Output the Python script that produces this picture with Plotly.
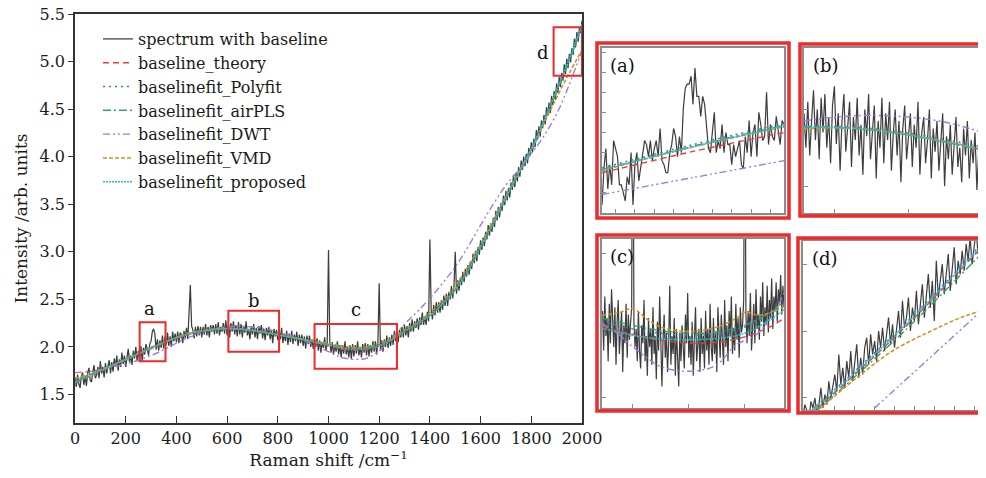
import plotly.graph_objects as go

# ---------------- main spectrum ----------------
raman_shift = list(range(0, 2001, 5))
spectrum = [
    1.68,1.58,1.71,1.61,1.57,1.69,1.73,1.60,1.69,1.59,
    1.73,1.78,1.65,1.63,1.73,1.81,1.67,1.70,1.79,1.67,
    1.85,1.72,1.79,1.68,1.83,1.72,1.80,1.86,1.72,1.84,
    1.74,1.88,1.79,1.91,1.75,1.87,1.79,1.94,1.82,1.91,
    1.79,1.92,1.98,1.84,1.91,1.81,1.96,1.88,2.00,1.85,
    1.96,1.86,2.01,1.85,1.99,1.92,2.03,1.98,1.91,2.03,
    2.06,2.16,2.19,2.14,1.97,2.08,1.96,2.07,1.99,2.12,
    1.98,2.11,2.02,2.15,2.01,2.11,2.00,2.16,2.06,2.14,
    2.05,2.16,2.04,2.15,2.13,2.04,2.17,2.09,2.20,2.08,
    2.40,2.65,2.22,2.18,2.09,2.21,2.11,2.22,2.12,2.21,
    2.10,2.21,2.13,2.24,2.12,2.21,2.10,2.23,2.16,2.23,
    2.13,2.24,2.14,2.26,2.12,2.21,2.16,2.25,2.14,2.28,
    2.12,2.24,2.10,2.25,2.16,2.27,2.13,2.23,2.11,2.26,
    2.13,2.24,2.10,2.22,2.15,2.27,2.12,2.19,2.08,2.22,
    2.13,2.24,2.10,2.20,2.08,2.22,2.14,2.23,2.09,2.19,
    2.07,2.20,2.12,2.21,2.08,2.18,2.04,2.19,2.11,2.18,
    2.07,2.18,2.08,2.20,2.04,2.14,2.06,2.17,2.02,2.14,
    2.05,2.17,2.03,2.13,2.06,2.16,2.01,2.13,2.04,2.13,
    2.01,2.11,1.98,2.12,2.03,2.12,2.00,2.08,1.98,2.08,
    2.00,2.09,1.96,2.07,1.94,2.05,1.99,2.10,1.96,2.05,
    3.02,2.06,1.94,2.05,1.92,2.02,1.95,2.06,1.92,2.02,
    1.89,2.02,1.93,2.06,1.92,2.00,1.89,2.02,1.87,2.03,
    1.90,2.02,1.93,2.06,1.91,2.00,1.89,2.03,1.94,2.04,
    1.91,2.03,1.90,2.02,1.94,2.06,1.95,2.06,1.92,2.05,
    2.67,1.96,2.07,1.95,2.08,2.00,2.12,1.99,2.10,2.01,
    2.13,2.02,2.17,2.06,2.16,2.05,2.18,2.10,2.21,2.10,
    2.23,2.12,2.22,2.10,2.25,2.16,2.29,2.16,2.27,2.20,
    2.30,2.18,2.31,2.23,2.36,2.23,2.32,2.23,2.37,2.27,
    3.13,2.39,2.29,2.44,2.33,2.47,2.36,2.47,2.36,2.49,
    2.39,2.54,2.43,2.56,2.43,2.58,2.50,2.64,2.51,2.64,
    3.00,2.56,2.70,2.59,2.73,2.65,2.79,2.68,2.82,2.74,
    2.86,2.76,2.90,2.82,2.98,2.88,3.01,2.90,3.05,2.97,
    3.12,3.02,3.15,3.06,3.21,3.13,3.28,3.17,3.30,3.21,
    3.36,3.26,3.43,3.33,3.47,3.36,3.51,3.43,3.59,3.49,
    3.64,3.54,3.67,3.57,3.73,3.65,3.81,3.68,3.83,3.74,
    3.89,3.79,3.96,3.86,4.00,3.90,4.03,3.93,4.09,4.01,
    4.15,4.05,4.19,4.10,4.28,4.18,4.32,4.21,4.38,4.30,
    4.44,4.34,4.52,4.43,4.57,4.46,4.64,4.54,4.69,4.60,
    4.77,4.67,4.84,4.73,4.88,4.80,4.97,4.87,5.03,4.93,
    5.08,4.99,5.14,5.07,5.24,5.15,5.31,5.21,5.36,5.30,
    5.43,
]

fit_x = list(range(0, 2001, 50))
baseline_theory = [1.62,1.68,1.74,1.80,1.86,1.92,1.98,2.04,2.09,2.13,2.16,2.18,2.19,2.185,2.17,2.15,2.125,2.10,2.07,2.04,
                   2.01,1.98,1.965,1.97,2.00,2.07,2.16,2.24,2.33,2.45,2.60,2.80,3.05,3.30,3.57,3.83,4.08,4.38,4.70,5.02,5.38]
fit_polyfit = [1.63,1.69,1.75,1.81,1.87,1.93,1.99,2.05,2.10,2.14,2.17,2.185,2.19,2.185,2.175,2.155,2.13,2.105,2.08,2.05,
               2.025,2.00,1.985,1.99,2.02,2.08,2.165,2.25,2.34,2.46,2.61,2.81,3.06,3.31,3.58,3.84,4.09,4.39,4.71,5.04,5.40]
fit_airpls = [1.64,1.70,1.755,1.815,1.875,1.935,1.995,2.05,2.10,2.14,2.17,2.19,2.195,2.19,2.175,2.155,2.13,2.105,2.08,2.055,
              2.035,2.01,1.99,1.995,2.025,2.085,2.165,2.245,2.335,2.455,2.60,2.80,3.04,3.29,3.56,3.82,4.06,4.36,4.68,5.01,5.37]
fit_dwt = [1.73,1.74,1.76,1.79,1.82,1.86,1.91,1.97,2.04,2.10,2.15,2.19,2.21,2.215,2.21,2.19,2.16,2.12,2.07,2.01,
           1.95,1.89,1.87,1.88,1.96,2.09,2.24,2.37,2.51,2.67,2.84,3.05,3.28,3.50,3.70,3.86,4.03,4.22,4.45,4.76,5.12]
fit_vmd = [1.67,1.71,1.76,1.81,1.87,1.93,1.99,2.05,2.10,2.15,2.17,2.19,2.195,2.19,2.175,2.155,2.13,2.105,2.08,2.055,
           2.04,2.01,1.995,2.00,2.04,2.09,2.18,2.26,2.36,2.48,2.64,2.84,3.08,3.33,3.59,3.84,4.08,4.35,4.62,4.88,5.12]
fit_proposed = [1.625,1.685,1.745,1.805,1.865,1.925,1.985,2.045,2.095,2.135,2.165,2.18,2.19,2.185,2.17,2.15,2.125,2.10,2.075,2.045,
                2.02,1.99,1.975,1.98,2.01,2.075,2.16,2.24,2.33,2.45,2.60,2.80,3.05,3.30,3.57,3.83,4.08,4.38,4.70,5.03,5.39]

# ---------------- inset (a) ----------------
inset_a_x = list(range(263, 358))
inset_a_spec = [1.87,1.96,2.01,1.91,1.97,1.92,2.03,2.01,1.99,1.92,
                1.92,1.90,1.88,1.94,1.92,2.00,1.87,1.97,2.00,1.93,
                1.96,1.99,2.03,2.02,1.99,2.03,1.98,2.01,2.03,1.99,
                2.06,1.98,1.97,1.95,1.95,2.00,2.02,2.06,2.04,1.99,
                2.04,2.00,2.11,2.16,2.17,2.17,2.19,2.12,2.21,2.14,
                2.14,2.09,2.14,2.12,2.07,2.01,2.00,2.06,2.10,2.00,
                2.03,2.01,2.07,2.00,2.05,2.02,2.02,1.97,2.02,1.99,
                2.01,2.03,1.97,1.96,2.04,2.00,2.08,1.99,2.05,2.07,
                1.99,2.10,2.07,2.03,2.04,2.15,2.02,2.07,2.04,2.03,
                2.09,2.06,2.02,2.08,2.07]
inset_a_fx = [263, 310, 357]
inset_a_theory = [1.950, 2.003, 2.050]
inset_a_polyfit = [1.962, 2.020, 2.072]
inset_a_airpls = [1.958, 2.016, 2.068]
inset_a_dwt = [1.896, 1.938, 1.980]
inset_a_vmd = [1.955, 2.015, 2.064]
inset_a_proposed = [1.957, 2.014, 2.066]

# ---------------- inset (b) ----------------
inset_b_x = list(range(605, 806, 2))
inset_b_spec = [2.21,2.12,2.24,2.10,2.19,2.27,2.14,2.22,2.09,2.25,
                2.16,2.26,2.12,2.20,2.08,2.23,2.28,2.13,2.21,2.06,
                2.19,2.26,2.11,2.17,2.24,2.07,2.20,2.14,2.25,2.10,
                2.18,2.05,2.22,2.15,2.26,2.09,2.17,2.23,2.04,2.19,
                2.12,2.25,2.08,2.21,2.14,2.24,2.06,2.16,2.22,2.10,
                2.19,2.03,2.17,2.23,2.09,2.15,2.21,2.07,2.18,2.12,
                2.24,2.05,2.16,2.20,2.08,2.14,2.22,2.04,2.17,2.11,
                2.19,2.06,2.13,2.21,2.02,2.15,2.09,2.18,2.05,2.13,
                2.20,2.07,2.12,2.03,2.17,2.10,2.19,2.04,2.14,2.08,
                2.16,2.01,2.12,2.18,2.06,2.11,2.15,2.03,2.10,2.14,
                2.07]
inset_b_fx = [605, 655, 705, 755, 805]
inset_b_theory = [2.175, 2.172, 2.158, 2.135, 2.108]
inset_b_polyfit = [2.176, 2.174, 2.162, 2.141, 2.116]
inset_b_airpls = [2.174, 2.171, 2.157, 2.134, 2.108]
inset_b_dwt = [2.190, 2.203, 2.202, 2.186, 2.150]
inset_b_vmd = [2.170, 2.171, 2.159, 2.136, 2.110]
inset_b_proposed = [2.174, 2.171, 2.157, 2.134, 2.107]

# ---------------- inset (c) ----------------
inset_c_x = list(range(946, 1271, 2))
inset_c_spec = [2.04,1.93,2.08,1.97,2.02,1.90,2.06,1.95,2.10,1.99,
                1.94,2.05,1.89,2.01,2.07,1.92,1.98,2.04,1.87,2.00,
                1.95,2.06,1.91,2.03,1.96,2.02,2.05,2.90,2.01,1.94,
                1.99,1.90,2.04,1.93,1.88,2.00,1.95,2.07,1.90,1.97,
                1.86,2.02,1.94,1.99,1.89,2.05,1.92,1.97,1.85,2.01,
                1.93,2.08,1.90,1.83,1.96,2.03,1.91,1.98,1.87,1.95,
                2.11,1.89,1.97,1.92,2.02,1.86,1.99,1.93,1.83,1.98,
                1.90,2.00,1.94,1.88,2.03,1.95,2.09,1.91,1.97,1.89,
                2.01,1.86,1.96,2.05,1.90,1.94,1.99,1.87,2.02,1.92,
                1.97,1.88,2.04,1.93,1.99,1.89,2.06,1.94,1.90,2.02,
                1.92,1.98,1.87,2.05,1.95,1.91,2.03,1.96,1.89,2.07,
                1.94,2.00,1.90,2.04,1.97,2.08,1.92,1.99,1.93,2.06,
                1.96,2.02,1.91,2.05,1.98,2.00,2.07,2.75,2.03,1.95,
                2.04,1.97,2.09,1.93,2.02,2.06,1.95,2.10,1.99,2.03,
                1.96,2.08,2.01,2.12,1.97,2.05,2.00,2.11,1.98,2.07,
                2.02,2.13,1.99,2.08,2.04,2.12,2.01,2.10,2.06,2.14,
                2.03,2.11,2.05]
inset_c_fx = [945, 1000, 1050, 1100, 1150, 1200, 1250, 1270]
inset_c_theory = [1.997, 1.975, 1.958, 1.951, 1.953, 1.968, 2.000, 2.020]
inset_c_polyfit = [2.010, 1.990, 1.978, 1.973, 1.977, 1.995, 2.040, 2.068]
inset_c_airpls = [2.020, 2.000, 1.985, 1.978, 1.982, 2.000, 2.040, 2.060]
inset_c_proposed = [1.992, 1.972, 1.962, 1.960, 1.963, 1.978, 2.020, 2.043]
inset_c_dwt_x = [945, 975, 1000, 1025, 1050, 1085, 1125, 1150, 1185, 1220, 1254, 1270]
inset_c_dwt = [2.005, 1.975, 1.940, 1.910, 1.885, 1.873, 1.876, 1.890, 1.946, 1.973, 2.040, 2.090]
inset_c_vmd_x = [945, 975, 1000, 1025, 1050, 1100, 1150, 1185, 1200, 1225, 1250, 1270]
inset_c_vmd = [2.028, 2.035, 2.046, 2.018, 1.995, 1.983, 1.995, 2.020, 2.036, 2.028, 2.038, 2.052]

# ---------------- inset (d) ----------------
inset_d_x = list(range(1904, 2001))
inset_d_spec = [4.85,4.88,4.86,4.84,4.89,4.87,4.90,4.85,4.88,4.93,
                4.87,4.91,4.88,4.95,4.90,4.93,4.97,4.92,5.03,4.94,
                4.99,4.93,5.01,4.96,5.04,4.95,5.00,5.06,4.96,5.02,
                4.97,5.05,5.08,5.00,5.09,5.03,5.07,5.01,5.10,5.05,
                5.11,5.04,5.09,5.14,5.06,5.12,5.05,5.10,5.16,5.08,
                5.19,5.11,5.14,5.20,5.10,5.17,5.13,5.22,5.12,5.18,
                5.24,5.14,5.21,5.27,5.17,5.25,5.13,5.31,5.20,5.26,
                5.30,5.21,5.27,5.33,5.22,5.29,5.35,5.24,5.31,5.27,
                5.34,5.28,5.36,5.31,5.38,5.30,5.35,5.40,5.33,5.37,
                5.39,5.34,5.41,5.36,5.42,5.38,5.44]
inset_d_fx = [1904, 1955, 2000]
inset_d_theory = [4.830, 5.110, 5.390]
inset_d_polyfit = [4.840, 5.120, 5.400]
inset_d_airpls = [4.825, 5.100, 5.370]
inset_d_proposed = [4.835, 5.115, 5.395]
inset_d_dwt_x = [1940, 2000]
inset_d_dwt = [4.870, 5.194]
inset_d_vmd_x = [1904, 1913, 1933, 1950, 1968, 1985, 2000]
inset_d_vmd = [4.820, 4.870, 4.970, 5.044, 5.099, 5.144, 5.170]

# ---------------- styles ----------------
SERIF = "DejaVu Serif"
styles = {
    "spectrum with baseline": dict(color="#3d3d3d", width=1.25, dash="solid"),
    "baseline_theory": dict(color="#ee3b3b", width=1.4, dash="6px,4px"),
    "baselinefit_Polyfit": dict(color="#3b78d4", width=1.5, dash="2px,4px"),
    "baselinefit_airPLS": dict(color="#2aa56a", width=1.4, dash="8px,3px,2px,3px"),
    "baselinefit_DWT": dict(color="#a07ad8", width=1.4, dash="7px,3px,2px,3px,2px,3px"),
    "baselinefit_VMD": dict(color="#d98e1c", width=1.5, dash="4px,2px"),
    "baselinefit_proposed": dict(color="#22c4c8", width=1.6, dash="2px,1px"),
}

fig = go.Figure()

main_series = [
    ("spectrum with baseline", raman_shift, spectrum, "linear"),
    ("baseline_theory", fit_x, baseline_theory, "spline"),
    ("baselinefit_Polyfit", fit_x, fit_polyfit, "spline"),
    ("baselinefit_airPLS", fit_x, fit_airpls, "spline"),
    ("baselinefit_DWT", fit_x, fit_dwt, "spline"),
    ("baselinefit_VMD", fit_x, fit_vmd, "spline"),
    ("baselinefit_proposed", fit_x, fit_proposed, "spline"),
]
for i, (name, xs, ys, shape) in enumerate(main_series):
    st = styles[name]
    fig.add_trace(go.Scatter(x=xs, y=ys, mode="lines", name=name, legendgroup=f"g{i}",
                             line=dict(color=st["color"], width=st["width"], dash=st["dash"], shape=shape),
                             xaxis="x", yaxis="y"))

insets = [
    (2, inset_a_x, inset_a_spec, [
        ("baseline_theory", inset_a_fx, inset_a_theory),
        ("baselinefit_Polyfit", inset_a_fx, inset_a_polyfit),
        ("baselinefit_airPLS", inset_a_fx, inset_a_airpls),
        ("baselinefit_DWT", inset_a_fx, inset_a_dwt),
        ("baselinefit_VMD", inset_a_fx, inset_a_vmd),
        ("baselinefit_proposed", inset_a_fx, inset_a_proposed)]),
    (3, inset_b_x, inset_b_spec, [
        ("baseline_theory", inset_b_fx, inset_b_theory),
        ("baselinefit_Polyfit", inset_b_fx, inset_b_polyfit),
        ("baselinefit_airPLS", inset_b_fx, inset_b_airpls),
        ("baselinefit_DWT", inset_b_fx, inset_b_dwt),
        ("baselinefit_VMD", inset_b_fx, inset_b_vmd),
        ("baselinefit_proposed", inset_b_fx, inset_b_proposed)]),
    (4, inset_c_x, inset_c_spec, [
        ("baseline_theory", inset_c_fx, inset_c_theory),
        ("baselinefit_Polyfit", inset_c_fx, inset_c_polyfit),
        ("baselinefit_airPLS", inset_c_fx, inset_c_airpls),
        ("baselinefit_DWT", inset_c_dwt_x, inset_c_dwt),
        ("baselinefit_VMD", inset_c_vmd_x, inset_c_vmd),
        ("baselinefit_proposed", inset_c_fx, inset_c_proposed)]),
    (5, inset_d_x, inset_d_spec, [
        ("baseline_theory", inset_d_fx, inset_d_theory),
        ("baselinefit_Polyfit", inset_d_fx, inset_d_polyfit),
        ("baselinefit_airPLS", inset_d_fx, inset_d_airpls),
        ("baselinefit_DWT", inset_d_dwt_x, inset_d_dwt),
        ("baselinefit_VMD", inset_d_vmd_x, inset_d_vmd),
        ("baselinefit_proposed", inset_d_fx, inset_d_proposed)]),
]
for n, sx, sy, fits in insets:
    st = styles["spectrum with baseline"]
    fig.add_trace(go.Scatter(x=sx, y=sy, mode="lines", showlegend=False, hoverinfo="skip",
                             line=dict(color=st["color"], width=1.2), xaxis=f"x{n}", yaxis=f"y{n}"))
    for name, fx, fy in fits:
        st = styles[name]
        fig.add_trace(go.Scatter(x=fx, y=fy, mode="lines", showlegend=False, hoverinfo="skip",
                                 line=dict(color=st["color"], width=st["width"], dash=st["dash"], shape="spline"),
                                 xaxis=f"x{n}", yaxis=f"y{n}"))

# The page places the figure 8 px from the window's top-left corner,
# so screen positions p are converted to figure positions p - 8.
W, H = 986, 478
OFF = 8
def px_x(p):
    return (p - OFF) / W
def px_y(p):
    return (H - (p - OFF)) / H

axis_common = dict(showgrid=False, zeroline=False, automargin=False)
layout = dict(
    width=W, height=H, margin=dict(l=0, r=0, t=0, b=0, autoexpand=False),
    paper_bgcolor="white", plot_bgcolor="white",
    font=dict(family=SERIF, size=16, color="#1a1a1a"),
    showlegend=True,
    legend=dict(x=px_x(98), y=px_y(22), xanchor="left", yanchor="top", bgcolor="rgba(0,0,0,0)",
                font=dict(family=SERIF, size=16, color="#1a1a1a"), tracegroupgap=0),
    xaxis=dict(domain=[px_x(75), px_x(582)], range=[0, 2000], tick0=0, dtick=200,
               ticks="inside", ticklen=7, tickwidth=1.3, tickcolor="#333",
               showline=True, linecolor="#333", linewidth=1.5, mirror=True, ticklabeloverflow="allow",
               tickfont=dict(size=16), title=dict(text="Raman shift /cm<sup>−1</sup>", font=dict(size=17), standoff=6),
               anchor="y", **axis_common),
    yaxis=dict(domain=[px_y(423), px_y(14)], range=[1.2, 5.5], tick0=1.5, dtick=0.5, tickformat=".1f",
               ticks="outside", ticklen=5, tickwidth=1.3, tickcolor="#333",
               showline=True, linecolor="#333", linewidth=1.5, mirror=True, ticklabeloverflow="allow",
               tickfont=dict(size=16), title=dict(text="Intensity /arb. units", font=dict(size=17), standoff=8),
               anchor="x", **axis_common),
)

inset_specs = {
    2: dict(xd=[px_x(602), px_x(784)], yd=[px_y(213), px_y(48)], xr=[263, 357], yr=[1.85, 2.26],
            xt0=270, xdt=10, yt0=1.9, ydt=0.05, right=True),
    3: dict(xd=[px_x(804), 1.0], yd=[px_y(213), px_y(48)], xr=[605, 805], yr=[1.95, 2.38],
            xt0=637, xdt=77.5, yt0=2.02, ydt=0.2, right=False),
    4: dict(xd=[px_x(602), px_x(784)], yd=[px_y(408), px_y(239)], xr=[945, 1270], yr=[1.77, 2.24],
            xt0=1000, xdt=100, yt0=1.8, ydt=0.2, right=True),
    5: dict(xd=[px_x(803), 1.0], yd=[px_y(410), px_y(241)], xr=[1904, 2000], yr=[4.864, 5.369],
            xt0=1910, xdt=10, yt0=4.9, ydt=0.2, right=False),
}
for n, s in inset_specs.items():
    layout[f"xaxis{n}"] = dict(domain=s["xd"], range=s["xr"], anchor=f"y{n}", tick0=s["xt0"], dtick=s["xdt"],
                               ticks="inside", ticklen=4, tickcolor="#8c8c8c", showticklabels=False,
                               showline=True, linecolor="#8c8c8c", linewidth=1.5, mirror=True, **axis_common)
    layout[f"yaxis{n}"] = dict(domain=s["yd"], range=s["yr"], anchor=f"x{n}", tick0=s["yt0"], dtick=s["ydt"],
                               ticks="inside", ticklen=4, tickcolor="#8c8c8c", showticklabels=False,
                               showline=True, linecolor="#8c8c8c", linewidth=1.5, mirror=s["right"], **axis_common)
fig.update_layout(**layout)

# red region boxes on the main plot
region_boxes = [(255, 357, 1.85, 2.26), (605, 805, 1.95, 2.38), (945, 1270, 1.77, 2.24), (1888, 2000, 4.85, 5.36)]
for x0, x1, y0, y1 in region_boxes:
    fig.add_shape(type="rect", xref="x", yref="y", x0=x0, x1=x1, y0=y0, y1=y1,
                  line=dict(color="#ee2a2a", width=2))
region_labels = [("a", 295, 2.40), ("b", 707, 2.49), ("c", 1107, 2.39), ("d", 1848, 5.09)]
for t, x, y in region_labels:
    fig.add_annotation(text=t, x=x, y=y, xref="x", yref="y", showarrow=False,
                       font=dict(family=SERIF, size=18, color="#111"))

# red frames around insets
frames = [(597, 789, 43, 218), (800, 1010, 44, 216), (597, 789, 235, 411), (798, 1010, 238, 413)]
for l, r, t, b in frames:
    fig.add_shape(type="rect", xref="paper", yref="paper", x0=px_x(l), x1=px_x(r), y0=px_y(b), y1=px_y(t),
                  line=dict(color="#ee2a2a", width=3.5))

for n, lab in [(2, "(a)"), (3, "(b)"), (4, "(c)"), (5, "(d)")]:
    fig.add_annotation(text=lab, x=0.035, y=0.97, xref=f"x{n} domain", yref=f"y{n} domain",
                       xanchor="left", yanchor="top", showarrow=False,
                       font=dict(family=SERIF, size=18, color="#111"))

fig.write_html("out.html")
